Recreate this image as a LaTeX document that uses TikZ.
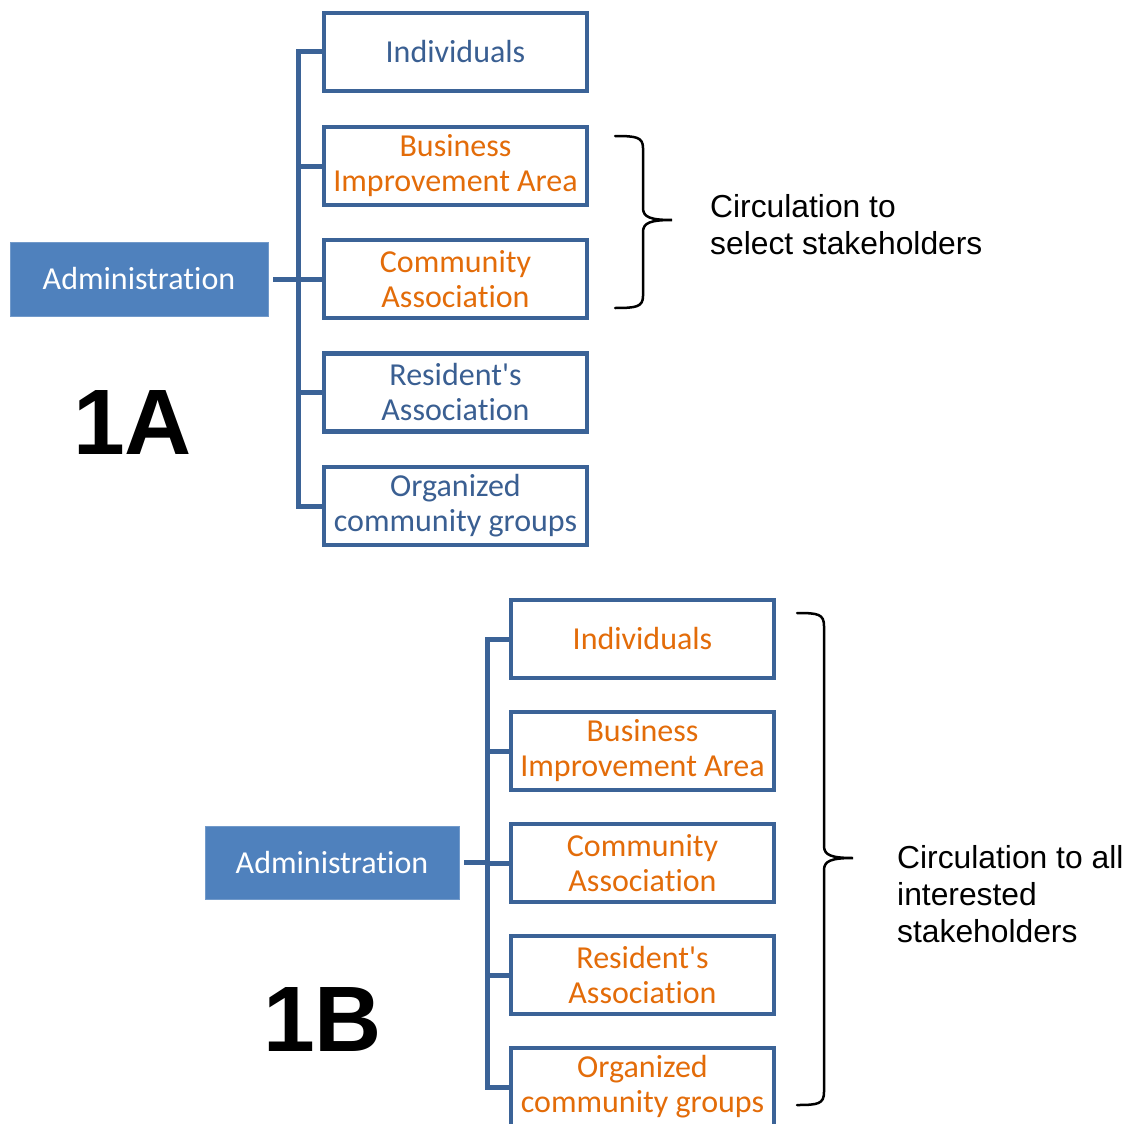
\documentclass[tikz,border=0pt]{standalone}
\usepackage{fontspec}
\setmainfont{Liberation Sans}
\newfontfamily\carl[Ligatures={NoCommon}]{Carlito}
\definecolor{boxblue}{HTML}{3B6397}
\definecolor{txtblue}{HTML}{3A5F92}
\definecolor{orng}{HTML}{E36C09}
\definecolor{adminfill}{HTML}{4F81BD}
\tikzset{
  stake/.style={draw=boxblue, line width=4.5pt, fill=white, minimum width=263pt, minimum height=78pt,
    inner sep=0pt, align=center, font=\carl\fontsize{32}{35}\selectfont},
  blue txt/.style={text=txtblue},
  orange txt/.style={text=orng},
  adminbox/.style={fill=adminfill, draw=adminfill!80!white, line width=0.8pt, text=white, inner sep=0pt,
    font=\carl\fontsize{32}{35}\selectfont},
  conn/.style={draw=boxblue, line width=5pt, line join=miter},
  bracestyle/.style={draw=black, line width=2.5pt, line cap=round},
  bigLabel/.style={font=\fontsize{93}{93}\selectfont\bfseries, inner sep=0pt},
  noteText/.style={font=\fontsize{31.8}{37}\selectfont, align=left, anchor=west, inner sep=0pt}
}
\begin{document}
\begin{tikzpicture}[x=1pt,y=-1pt]
\useasboundingbox (0,0) rectangle (1130,1124);
% ---------- 1A ----------
\node[adminbox, minimum width=258pt, minimum height=74pt] (adA) at (139,279) {Administration};
\node[stake, blue txt]   (a1) at (455.5,52)  {Individuals};
\node[stake, orange txt] (a2) at (455.5,166) {Business\\Improvement Area};
\node[stake, orange txt] (a3) at (455.5,279) {Community\\Association};
\node[stake, blue txt]   (a4) at (455.5,392.5) {Resident's\\Association};
\node[stake, blue txt]   (a5) at (455.5,506) {Organized\\community groups};
\coordinate (tA) at (298,279);
\draw[conn, shorten <=5pt] (adA.east) -- (tA);
\draw[conn] (a1.west) -- (a1.west -| tA) -- (a5.west -| tA) -- (a5.west);
\draw[conn] (a2.west -| tA) -- (a2.west);
\draw[conn] (a3.west -| tA) -- (a3.west);
\draw[conn] (a4.west -| tA) -- (a4.west);
\node[bigLabel] (lA) at (132.5,423) {1A};
\draw[bracestyle] (615,136) .. controls (636,136) and (643,137) .. (643,148) -- (643,208)
  .. controls (643,217) and (650,220) .. (672,220)
  .. controls (650,220) and (643,223) .. (643,232) -- (643,296)
  .. controls (643,307) and (636,308) .. (615,308);
\node[noteText] (nA) at (710,225) {Circulation to\\select stakeholders};
% ---------- 1B ----------
\node[adminbox, minimum width=254pt, minimum height=73pt] (adB) at (332,862.5) {Administration};
\node[stake, orange txt] (b1) at (642.5,639)  {Individuals};
\node[stake, orange txt] (b2) at (642.5,751)  {Business\\Improvement Area};
\node[stake, orange txt] (b3) at (642.5,863)  {Community\\Association};
\node[stake, orange txt] (b4) at (642.5,975)  {Resident's\\Association};
\node[stake, orange txt] (b5) at (642.5,1087) {Organized\\community groups};
\coordinate (tB) at (487,862.5);
\draw[conn, shorten <=5pt] (adB.east) -- (tB);
\draw[conn] (b1.west) -- (b1.west -| tB) -- (b5.west -| tB) -- (b5.west);
\draw[conn] (b2.west -| tB) -- (b2.west);
\draw[conn] (b3.west -| tB) -- (b3.west);
\draw[conn] (b4.west -| tB) -- (b4.west);
\node[bigLabel] (lB) at (322.5,1019) {1B};
\draw[bracestyle] (797,613) .. controls (818,613) and (824,614) .. (824,626) -- (824,846)
  .. controls (824,855) and (831,858) .. (853,858)
  .. controls (831,858) and (824,861) .. (824,870) -- (824,1092)
  .. controls (824,1104) and (818,1105) .. (797,1105);
\node[noteText] (nB) at (897,894) {Circulation to all\\interested\\stakeholders};
\end{tikzpicture}
\end{document}
